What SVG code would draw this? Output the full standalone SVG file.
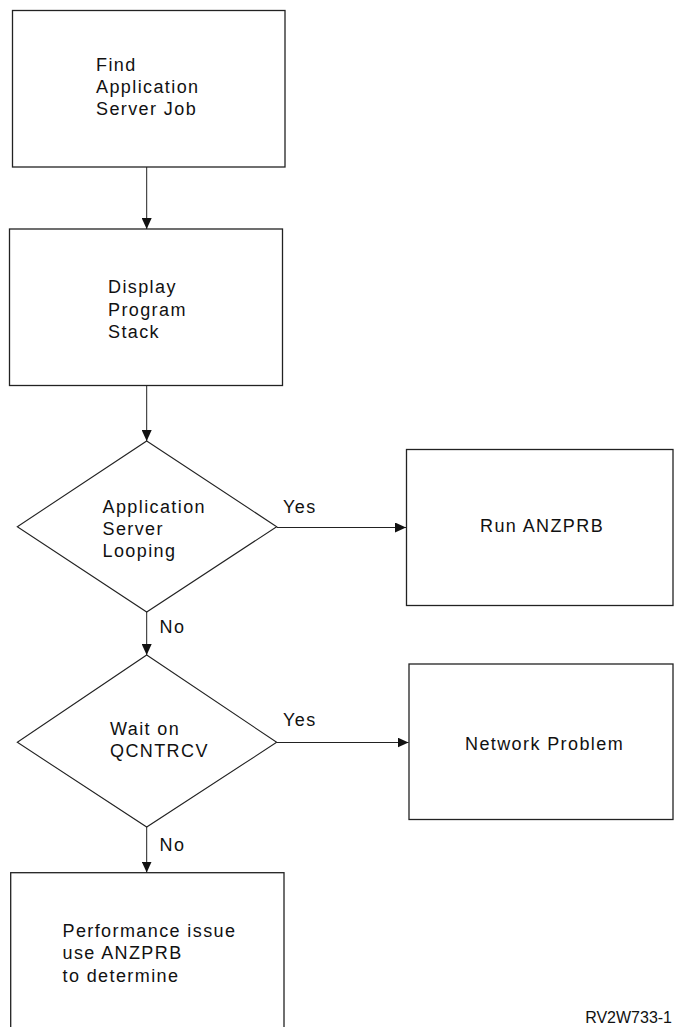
<svg xmlns="http://www.w3.org/2000/svg" width="674" height="1027" viewBox="0 0 674 1027">
  <style>
    .box { fill: #ffffff; stroke: #222222; stroke-width: 1.3; }
    .dia { fill: #ffffff; stroke: #222222; stroke-width: 1.1; }
    .lbl { font-family: "Liberation Sans", Arial, Helvetica, sans-serif; font-size: 18px; letter-spacing: 1.4px; fill: #111111; }
    .tag { font-family: "Liberation Sans", Arial, Helvetica, sans-serif; font-size: 16px; fill: #111111; }
    .edge { fill: none; stroke: #222222; stroke-width: 1; marker-end: url(#arrow); }
  </style>
  <defs>
    <marker id="arrow" viewBox="0 0 11 10" refX="11" refY="5" markerWidth="11" markerHeight="10" markerUnits="userSpaceOnUse" orient="auto">
      <path d="M0,0 L11,5 L0,10 z" fill="#111111"/>
    </marker>
  </defs>

  <rect width="674" height="1027" fill="#ffffff"/>

  <!-- process boxes -->
  <g id="find-job">
    <rect class="box" x="12.5" y="10.5" width="272.5" height="156.5"/>
    <text class="lbl" x="96" y="71">Find</text>
    <text class="lbl" x="96" y="93">Application</text>
    <text class="lbl" x="96" y="115">Server Job</text>
  </g>

  <g id="display-stack">
    <rect class="box" x="9.5" y="229" width="273" height="156.5"/>
    <text class="lbl" x="108" y="293">Display</text>
    <text class="lbl" x="108" y="315.5">Program</text>
    <text class="lbl" x="108" y="338">Stack</text>
  </g>

  <!-- decision: looping -->
  <g id="looping">
    <polygon class="dia" points="146.7,441 276.7,526.7 146.7,612 17.3,526.7"/>
    <text class="lbl" x="102.5" y="512.5">Application</text>
    <text class="lbl" x="102.5" y="535">Server</text>
    <text class="lbl" x="102.5" y="557">Looping</text>
  </g>

  <g id="run-anzprb">
    <rect class="box" x="406.5" y="449.5" width="266.5" height="156"/>
    <text class="lbl" x="480" y="531.5">Run ANZPRB</text>
  </g>

  <!-- decision: waiting on receive -->
  <g id="wait-qcntrcv">
    <polygon class="dia" points="146.7,655 276.7,742.3 146.7,827 17.3,742.3"/>
    <text class="lbl" x="110" y="735">Wait on</text>
    <text class="lbl" x="110" y="757">QCNTRCV</text>
  </g>

  <g id="network-problem">
    <rect class="box" x="409" y="664" width="264" height="155.5"/>
    <text class="lbl" x="465" y="749.5">Network Problem</text>
  </g>

  <g id="performance">
    <rect class="box" x="10.7" y="872.7" width="273.3" height="170"/>
    <text class="lbl" x="62.5" y="936.5">Performance issue</text>
    <text class="lbl" x="62.5" y="959">use ANZPRB</text>
    <text class="lbl" x="62.5" y="981.5">to determine</text>
  </g>

  <!-- connectors -->
  <g id="connectors">
    <line class="edge" x1="146.7" y1="167" x2="146.7" y2="229"/>
    <line class="edge" x1="146.7" y1="385.5" x2="146.7" y2="441"/>
    <line class="edge" x1="276.7" y1="527.5" x2="406" y2="527.5"/>
    <line class="edge" x1="146.7" y1="612" x2="146.7" y2="655"/>
    <line class="edge" x1="276.7" y1="742.5" x2="408.5" y2="742.5"/>
    <line class="edge" x1="146.7" y1="827" x2="146.7" y2="872.5"/>
    <text class="lbl" x="283" y="513">Yes</text>
    <text class="lbl" x="159.5" y="633">No</text>
    <text class="lbl" x="283" y="725.5">Yes</text>
    <text class="lbl" x="159.5" y="851">No</text>
  </g>

  <!-- figure identifier -->
  <text class="tag" x="672" y="1023" text-anchor="end">RV2W733-1</text>
</svg>
